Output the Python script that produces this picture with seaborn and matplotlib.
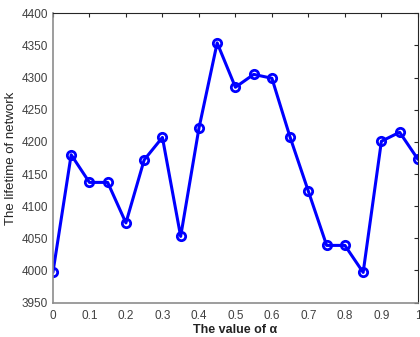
import numpy as np
import pandas as pd
import seaborn as sns
import matplotlib.pyplot as plt

# values
alpha = [0, 0.05, 0.1, 0.15, 0.2, 0.25, 0.3, 0.35, 0.4, 0.45, 0.5,
         0.55, 0.6, 0.65, 0.7, 0.75, 0.8, 0.85, 0.9, 0.95, 1.0]
lifetime = [3997, 4180, 4137, 4137, 4074, 4172, 4207, 4053, 4221, 4354, 4285,
            4305, 4299, 4207, 4123, 4039, 4039, 3997, 4201, 4215, 4173]
xticks = [0, 0.1, 0.2, 0.3, 0.4, 0.5, 0.6, 0.7, 0.8, 0.9, 1]
xticklabels = ['0', '0.1', '0.2', '0.3', '0.4', '0.5', '0.6', '0.7', '0.8', '0.9', '1']
yticks = [3950, 4000, 4050, 4100, 4150, 4200, 4250, 4300, 4350, 4400]

df = pd.DataFrame({'alpha': alpha, 'lifetime': lifetime})

sns.set_style('white')
plt.rcParams['font.family'] = ['Liberation Sans', 'DejaVu Sans']

fig = plt.figure(figsize=(4.2, 3.37), dpi=100)
ax = fig.add_axes([0.126, 0.102, 0.869, 0.8585])

sns.lineplot(data=df, x='alpha', y='lifetime', ax=ax, color='#0000ff',
             linewidth=2.2, marker='o', markersize=6, markerfacecolor='none',
             markeredgecolor='#0000ff', markeredgewidth=2.0)

ax.set_xlim(0, 1)
ax.set_ylim(3950, 4400)
ax.set_xticks(xticks)
ax.set_xticklabels(xticklabels)
ax.set_yticks(yticks)
ax.tick_params(direction='in', length=3, width=0.8, colors='#262626',
               labelsize=8.5, labelcolor='#404040', top=True, right=True)
ax.tick_params(axis='x', pad=5)
for s in ['left', 'bottom']:
    ax.spines[s].set_color('#8c8c8c')
    ax.spines[s].set_linewidth(1.2)
for s in ['top', 'right']:
    ax.spines[s].set_color('#262626')
    ax.spines[s].set_linewidth(0.8)

ax.set_xlabel('The value of α', fontsize=9, fontweight='bold', color='#222222', labelpad=2)
ax.set_ylabel('The lifetime of network', fontsize=9.5, color='#222222', labelpad=3)

fig.savefig('out.png', dpi=100)
